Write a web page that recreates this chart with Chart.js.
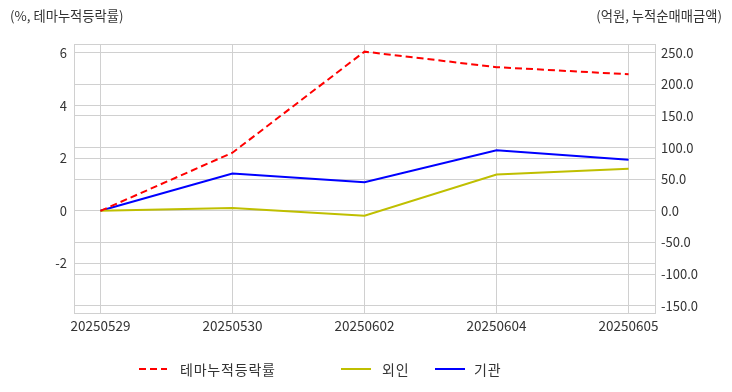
<!DOCTYPE html>
<html><head><meta charset="utf-8">
<script src="https://cdn.jsdelivr.net/npm/chart.js@4/dist/chart.umd.min.js"></script>
<style>
html,body{margin:0;padding:0;background:#fff;}
#wrap{position:relative;width:732px;height:392px;font-family:"Noto Sans CJK KR","Noto Sans",sans-serif;color:#333;}
#c{position:absolute;left:0;top:0;}
.ttl{position:absolute;top:6px;font-size:13.3px;color:#333;white-space:nowrap;}
#legend .it{position:absolute;top:359px;display:flex;align-items:center;font-size:14px;letter-spacing:0.8px;color:#333;white-space:nowrap;}
#legend canvas{display:block;}
</style></head>
<body>
<div id="wrap">
<canvas id="c" width="732" height="392"></canvas>
<div class="ttl" style="left:10px">(%, 테마누적등락률)</div>
<div class="ttl" style="right:10px">(억원, 누적순매매금액)</div>
<div id="legend"></div>
</div>
<script>
const categories = ["20250529","20250530","20250602","20250604","20250605"];
const themeReturn = [0, 2.21, 6.05, 5.46, 5.19];      // %, left axis
const foreignNet = [0, 4.3, -7.9, 57.4, 66.4];        // 억원, right axis
const instNet = [0, 58.9, 45.3, 95.9, 80.6];          // 억원, right axis
const seriesNames = ["테마누적등락률","외인","기관"];
const leftTicks = [-2, 0, 2, 4, 6];
const rightTicks = [-150, -100, -50, 0, 50, 100, 150, 200, 250];

const LMIN=-3.88, LMAX=6.34, RMIN=-161.6, RMAX=263.8, XMIN=-0.2, XMAX=4.2;
const gridColor = '#d0d0d0';
const fam = '"Noto Sans CJK KR","Noto Sans",sans-serif';

const toPts = arr => arr.map((v,i)=>({x:i,y:v}));

const ds = [
  {label:seriesNames[0], data:toPts(themeReturn), yAxisID:'y', borderColor:'#ff0000', borderDash:[7,4], borderWidth:2},
  {label:seriesNames[1], data:toPts(foreignNet), yAxisID:'y1', borderColor:'#bfbf00', borderWidth:2},
  {label:seriesNames[2], data:toPts(instNet), yAxisID:'y1', borderColor:'#0000ff', borderWidth:2}
].map(d=>Object.assign({pointRadius:0, pointHoverRadius:0, tension:0, fill:false}, d));

const chart = new Chart(document.getElementById('c'), {
  type:'line',
  data:{datasets:ds},
  options:{
    responsive:false, animation:false, devicePixelRatio:1,
    layout:{padding:{left:0,right:0,top:44,bottom:49}},
    plugins:{legend:{display:false}, tooltip:{enabled:false}},
    scales:{
      x:{type:'linear', min:XMIN, max:XMAX,
        afterBuildTicks:s=>{s.ticks=[XMIN,0,1,2,3,4,XMAX].map(v=>({value:v}));},
        afterFit:s=>{s.height=30;},
        grid:{color:gridColor, drawTicks:false},
        border:{color:gridColor},
        ticks:{padding:5, color:'#333', font:{family:fam,size:13.5}, maxRotation:0, autoSkip:false,
          callback:v=>Number.isInteger(v)&&categories[v]!==undefined?categories[v]:''}},
      y:{type:'linear', position:'left', min:LMIN, max:LMAX,
        afterBuildTicks:s=>{s.ticks=[LMIN,...leftTicks,LMAX].map(v=>({value:v}));},
        afterFit:s=>{s.width=74;},
        grid:{color:gridColor, drawTicks:false},
        border:{color:gridColor},
        ticks:{padding:7, color:'#333', font:{family:fam,size:13},
          callback:v=>leftTicks.includes(v)?String(v):''}},
      y1:{type:'linear', position:'right', min:RMIN, max:RMAX,
        afterBuildTicks:s=>{s.ticks=[RMIN,...rightTicks,RMAX].map(v=>({value:v}));},
        afterFit:s=>{s.width=77;},
        grid:{color:gridColor, drawTicks:false},
        border:{color:gridColor},
        ticks:{padding:6, color:'#333', font:{family:fam,size:13},
          callback:v=>rightTicks.includes(v)?v.toFixed(1):''}}
    }
  }
});

// HTML legend built from the datasets
const leg = document.getElementById('legend');
const itemLeft = [139, 341, 435];
const swatchW = [28, 30, 30];
const textGap = [13, 11, 9];
chart.data.datasets.forEach((d,i)=>{
  const it = document.createElement('div'); it.className='it';
  it.style.left = itemLeft[i]+'px';
  const sw = document.createElement('canvas'); sw.width=swatchW[i]; sw.height=4;
  sw.style.marginRight = textGap[i]+'px';
  const g = sw.getContext('2d');
  g.strokeStyle=d.borderColor; g.lineWidth=2;
  if(d.borderDash) g.setLineDash(d.borderDash);
  g.beginPath(); g.moveTo(0,2); g.lineTo(swatchW[i],2); g.stroke();
  const t = document.createElement('span'); t.textContent=d.label;
  it.appendChild(sw); it.appendChild(t); leg.appendChild(it);
});
</script>
</body></html>
